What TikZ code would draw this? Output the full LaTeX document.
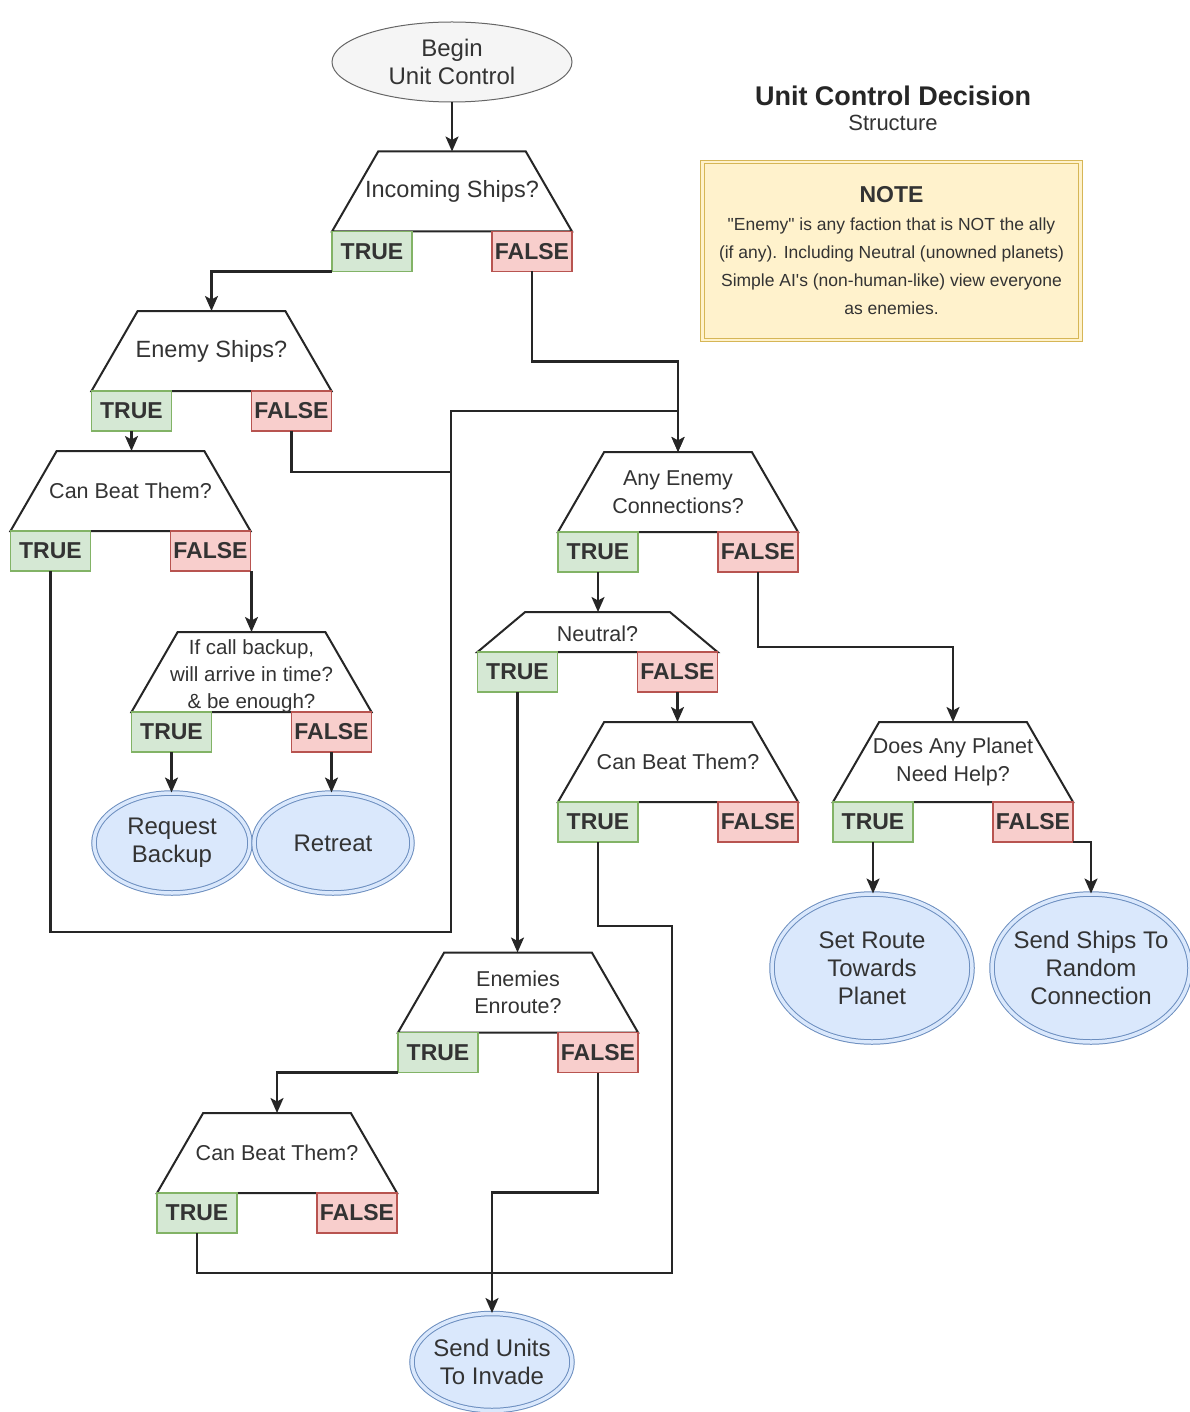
\documentclass[tikz,border=0pt]{standalone}
\usepackage{fontspec}
\setmainfont{Liberation Sans}[Ligatures=TeXOff]
\usetikzlibrary{shapes.geometric,arrows.meta}

\definecolor{yesfill}{HTML}{D5E8D4}
\definecolor{yesline}{HTML}{82B366}
\definecolor{nofill}{HTML}{F8CECC}
\definecolor{noline}{HTML}{B85450}
\definecolor{actfill}{HTML}{DAE8FC}
\definecolor{actline}{HTML}{6C8EBF}
\definecolor{startfill}{HTML}{F5F5F5}
\definecolor{startline}{HTML}{666666}
\definecolor{notefill}{HTML}{FFF2CC}
\definecolor{noteline}{HTML}{D6B656}
\definecolor{textgray}{HTML}{333333}

\begin{document}
\begin{tikzpicture}[x=1pt,y=-1pt,
  flow/.style={line width=2.2pt, draw=black!85},
  flowarrow/.style={flow, -{Stealth[length=15pt,width=13pt,inset=3.5pt]}},
  decision/.style={trapezium, trapezium stretches body=true, trapezium angle=60,
    draw=black!85, line width=2pt, fill=white, minimum width=240pt,
    text height=80pt, text depth=0pt, inner sep=0pt, outer sep=0pt},
  qtext/.style={text=textgray, font=\fontsize{21.5}{27.5}\selectfont, align=center},
  qbig/.style={qtext, font=\fontsize{23.5}{28}\selectfont},
  truebox/.style={draw=yesline, fill=yesfill, line width=1.2pt, minimum width=80pt,
    minimum height=40pt, inner sep=0pt, outer sep=0pt, text=black!80,
    font=\fontsize{23}{23}\selectfont\bfseries},
  falsebox/.style={truebox, draw=noline, fill=nofill},
  startnode/.style={ellipse, draw=startline, fill=startfill, line width=1pt, inner sep=0pt},
  action/.style={ellipse, draw=actline, double=actfill, double distance=3.5pt,
    line width=1pt, fill=actfill, inner sep=0pt},
  atext/.style={text=textgray, font=\fontsize{24}{28}\selectfont, align=center},
]
\useasboundingbox[fill=white] (0,0) rectangle (1190,1412);

% Title
\node[font=\fontsize{27}{30}\selectfont\bfseries, text=black!85] (title) at (893,96) {Unit Control Decision};
\node[font=\fontsize{22}{26}\selectfont, text=textgray] (subtitle) at (893,123) {Structure};

% Note
\node[draw=noteline, double=notefill, double distance=2.5pt, line width=1pt, fill=notefill,
  minimum width=378pt, minimum height=178pt, align=center, text=textgray,
  font=\fontsize{17.5}{28}\selectfont] (note) at (891.5,251)
  {{\fontsize{23}{28}\selectfont\bfseries NOTE}\\
   "Enemy" is any faction that is NOT the ally\\
   (if any). Including Neutral (unowned planets)\\
   Simple AI's (non-human-like) view everyone\\
   as enemies.};

% Start
\node[startnode, minimum width=240pt, minimum height=80pt,
  label={[atext]center:{Begin\\Unit Control}}] (begin) at (452,62) {};

% Incoming ships
\node[decision, label={[qbig]center:{Incoming Ships?}}] (incoming) at (452,191.5) {};
\node[truebox, anchor=north west] (incT) at (incoming.bottom left corner) {TRUE};
\node[falsebox, anchor=north east] (incF) at (incoming.bottom right corner) {FALSE};

% Enemy ships
\node[decision, label={[qbig]center:{Enemy Ships?}}] (enemy) at (211.5,351) {};
\node[truebox, anchor=north west] (enemyT) at (enemy.bottom left corner) {TRUE};
\node[falsebox, anchor=north east] (enemyF) at (enemy.bottom right corner) {FALSE};

% Can beat them (left)
\node[decision, label={[qtext]center:{Can Beat Them?}}] (beat1) at (130.5,491) {};
\node[truebox, anchor=north west] (beat1T) at (beat1.bottom left corner) {TRUE};
\node[falsebox, anchor=north east] (beat1F) at (beat1.bottom right corner) {FALSE};

% Backup
\node[decision, label={[qtext, font=\fontsize{20.5}{27}\selectfont, yshift=-4pt]center:{If call backup,\\will arrive in time?\\\& be enough?}}] (backup) at (251.5,672) {};
\node[truebox, anchor=north west] (backupT) at (backup.bottom left corner) {TRUE};
\node[falsebox, anchor=north east] (backupF) at (backup.bottom right corner) {FALSE};

\node[action, minimum width=156pt, minimum height=100pt,
  label={[atext]center:{Request\\Backup}}] (reqbackup) at (172,843) {};
\node[action, minimum width=158pt, minimum height=100pt,
  label={[atext]center:{Retreat}}] (retreat) at (333,843) {};

% Any enemy connections
\node[decision, label={[qtext]center:{Any Enemy\\Connections?}}] (anyconn) at (678,492) {};
\node[truebox, anchor=north west] (anyconnT) at (anyconn.bottom left corner) {TRUE};
\node[falsebox, anchor=north east] (anyconnF) at (anyconn.bottom right corner) {FALSE};

% Neutral
\node[decision, trapezium angle=40, text height=40pt,
  label={[qtext, yshift=-2pt]center:{Neutral?}}] (neutral) at (597.5,632) {};
\node[truebox, anchor=north west] (neutralT) at (neutral.bottom left corner) {TRUE};
\node[falsebox, anchor=north east] (neutralF) at (neutral.bottom right corner) {FALSE};

% Can beat them (middle)
\node[decision, label={[qtext]center:{Can Beat Them?}}] (beat2) at (678,762) {};
\node[truebox, anchor=north west] (beat2T) at (beat2.bottom left corner) {TRUE};
\node[falsebox, anchor=north east] (beat2F) at (beat2.bottom right corner) {FALSE};

% Planet needs help
\node[decision, label={[qtext]center:{Does Any Planet\\Need Help?}}] (planet) at (953,762) {};
\node[truebox, anchor=north west] (planetT) at (planet.bottom left corner) {TRUE};
\node[falsebox, anchor=north east] (planetF) at (planet.bottom right corner) {FALSE};

\node[action, minimum width=200pt, minimum height=148pt,
  label={[atext]center:{Set Route\\Towards\\Planet}}] (route) at (872,968) {};
\node[action, minimum width=198pt, minimum height=148pt,
  label={[atext]center:{Send Ships To\\Random\\Connection}}] (random) at (1091,968) {};

% Enemies enroute
\node[decision, label={[qtext]center:{Enemies\\Enroute?}}] (enroute) at (518,992.5) {};
\node[truebox, anchor=north west] (enrouteT) at (enroute.bottom left corner) {TRUE};
\node[falsebox, anchor=north east] (enrouteF) at (enroute.bottom right corner) {FALSE};

% Can beat them (bottom)
\node[decision, label={[qtext]center:{Can Beat Them?}}] (beat3) at (277,1153) {};
\node[truebox, anchor=north west] (beat3T) at (beat3.bottom left corner) {TRUE};
\node[falsebox, anchor=north east] (beat3F) at (beat3.bottom right corner) {FALSE};

% Invade
\node[action, minimum width=160pt, minimum height=97pt,
  label={[atext]center:{Send Units\\To Invade}}] (invade) at (492,1362) {};

% Bend points
\coordinate (join) at (451,411);
\coordinate (merge) at (451,472);
\coordinate (loop) at (451,932);
\coordinate (sink) at (672,1273);

% Connectors
\draw[flowarrow] (begin) -- (incoming.north);
\draw[flowarrow] (incT.south west) -| (enemy.north);
\draw[flowarrow] (incF.south) -- ++(0,90) -| (anyconn.north);
\draw[flowarrow] (enemyT.south) -- (enemyT.south |- beat1.north);
\draw[flow] (enemyF.south) |- (merge);
\draw[flowarrow] (beat1T.south) |- (loop) -- (join) -| (anyconn.north);
\draw[flowarrow] (backup.north |- beat1F.south) -- (backup.north);
\draw[flowarrow] (backupT.south) -- (backupT.south |- reqbackup.north);
\draw[flowarrow] (backupF.south) -- (backupF.south |- retreat.north);
\draw[flowarrow] (anyconnT.south) -- (anyconnT.south |- neutral.north);
\draw[flowarrow] (anyconnF.south) -- ++(0,75) -| (planet.north);
\draw[flowarrow] (neutralT.south) -- (neutralT.south |- enroute.north);
\draw[flowarrow] (neutralF.south) -- (neutralF.south |- beat2.north);
\draw[flow] (beat2T.south) -- ++(0,84) -| (sink) -| (beat3T.south);
\draw[flowarrow] (planetT.south) -- (planetT.south |- route.north);
\draw[flowarrow] (planetF.south east) -| (random.north);
\draw[flowarrow] (enrouteT.south west) -| (beat3.north);
\draw[flowarrow] (enrouteF.south) -- ++(0,120) -| (invade.north);
\end{tikzpicture}
\end{document}
